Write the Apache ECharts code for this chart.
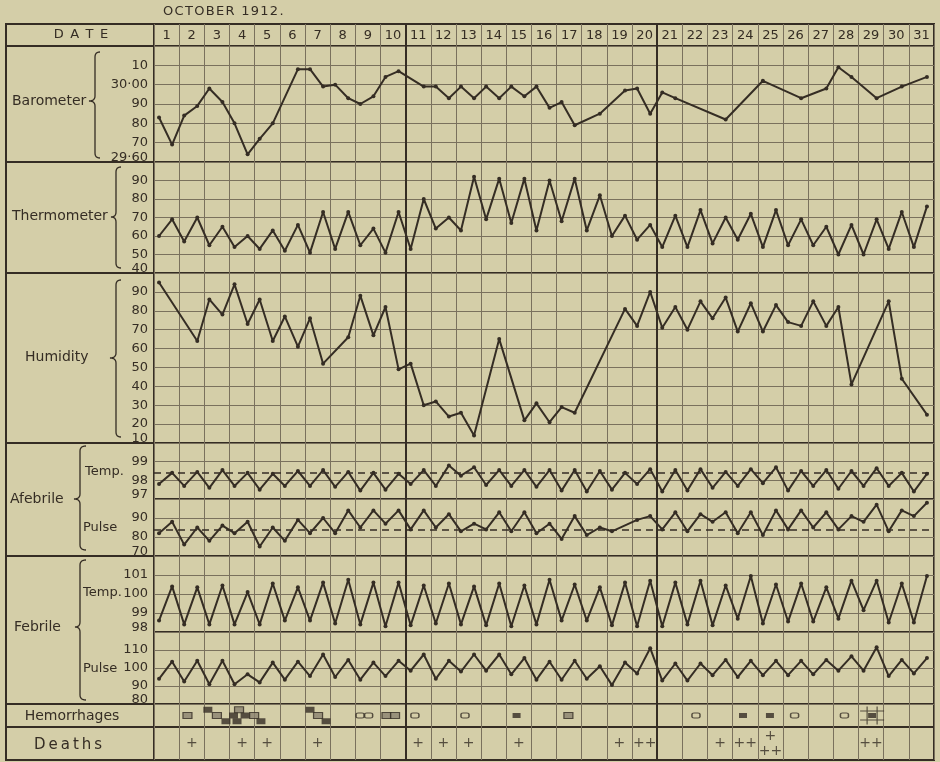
<!DOCTYPE html>
<html><head><meta charset="utf-8">
<script src="https://cdn.jsdelivr.net/npm/echarts/dist/echarts.min.js"></script>
<style>html,body{margin:0;padding:0;background:#d4cea8;}#c{width:940px;height:762px;}</style>
</head><body><div id="c"></div>
<script>
// ---------------- data ----------------
const TITLE = 'OCTOBER 1912.';
const DAYS = Array.from({length:31}, (_, i) => String(i + 1));
// two readings per day (62 values), null = no reading drawn
const BAROMETER = [
 29.83,29.69, 29.84,29.89, 29.98,29.91, 29.80,29.64, 29.72,29.80,
 null,30.08, 30.08,29.99, 30.00,29.93, 29.90,29.94, 30.04,30.07,
 null,29.99, 29.99,29.93, 29.99,29.93, 29.99,29.93, 29.99,29.94,
 29.99,29.88, 29.91,29.79, null,29.85, null,29.97, 29.98,29.85,
 29.96,29.93, null,null, null,29.82, null,null, 30.02,null,
 null,29.93, null,29.98, 30.09,30.04, null,29.93, null,29.99,
 null,30.04];
const THERMOMETER = [
 60,69, 57,70, 55,65, 54,60, 53,63, 52,66, 51,73, 53,73, 55,64, 51,73,
 53,80, 64,70, 63,92, 69,91, 67,91, 63,90, 68,91, 63,82, 60,71, 58,66,
 54,71, 54,74, 56,70, 58,72, 54,74, 55,69, 55,65, 50,66, 50,69, 53,73,
 54,76];
const HUMIDITY = [
 95,null, null,64, 86,78, 94,73, 86,64, 77,61, 76,52, null,66, 88,67, 82,49,
 52,30, 32,24, 26,14, null,65, null,22, 31,21, 29,26, null,null, null,81, 72,90,
 71,82, 70,85, 76,87, 69,84, 69,83, 74,72, 85,72, 82,41, null,null, 85,44,
 null,25];
const AFEBRILE_TEMP = [
 97.8,98.4, 97.7,98.45, 97.6,98.55, 97.7,98.4, 97.5,98.35, 97.7,98.5, 97.7,98.55,
 97.65,98.45, 97.45,98.4, 97.5,98.35, 97.8,98.55, 97.7,98.8, 98.25,98.7, 97.75,98.55,
 97.7,98.55, 97.65,98.55, 97.45,98.55, 97.4,98.5, 97.5,98.4, 97.8,98.6, 97.4,98.55,
 97.45,98.6, 97.6,98.45, 97.7,98.6, 97.85,98.7, 97.45,98.5, 97.7,98.55, 97.55,98.5,
 97.7,98.65, 97.7,98.4, 97.4,98.35];
const AFEBRILE_PULSE = [
 82,88, 76,85, 78,86, 82,88, 75,85, 78,89, 82,90, 82,94, 85,94, 87,94,
 84,94, 85,92, 83,87, 84,93, 83,93, 82,87, 79,91, 81,85, 83,null, 89,91,
 84,93, 83,92, 88,93, 82,93, 81,94, 84,94, 85,93, 84,91, 88,97, 83,94,
 91,98];
const FEBRILE_TEMP = [
 98.6,100.4, 98.4,100.35, 98.4,100.45, 98.4,100.1, 98.4,100.55, 98.6,100.35,
 98.6,100.6, 98.45,100.75, 98.4,100.6, 98.3,100.6, 98.35,100.45, 98.45,100.55,
 98.4,100.4, 98.35,100.55, 98.3,100.45, 98.4,100.75, 98.6,100.5, 98.6,100.35,
 98.35,100.6, 98.3,100.7, 98.3,100.6, 98.4,100.7, 98.35,100.45, 98.7,100.95,
 98.45,100.5, 98.55,100.55, 98.55,100.35, 98.7,100.7, 99.15,100.7, 98.5,100.55,
 98.5,100.95];
const FEBRILE_PULSE = [
 94,103.5, 92.5,104, 91,104, 91,96.5, 92,103, 93.5,103.5, 95.5,107.5, 95,104.5,
 93.5,103, 95.5,104, 98.5,107.5, 94,104, 98,107.5, 98.5,107.5, 96.5,105.5,
 93.5,103.5, 93.5,104, 94,101, 90.5,103, 97,111, 93,102.5, 93,102.5, 96,104.5,
 95,104, 96,104, 96,104, 96.5,104.5, 98.5,106.5, 98.5,111.5, 95.5,104.5, 97,105.5];
const NORMAL_TEMP = 98.4;
const NORMAL_PULSE = 84;
// hemorrhages: [day position, level]
const HEM_OPEN = [[8.19,2],[8.53,2],[10.37,2],[12.36,2],[21.54,2],[25.46,2],[27.44,2]];
const HEM_HATCHED = [[1.33,2],[2.5,2],[3.38,3],[3.98,2],[6.52,2],[9.24,2],[9.58,2],[16.47,2]];
const HEM_SOLID = [[2.14,3],[2.86,1],[3.16,2],[3.3,1],[3.62,2],[4.25,1],[6.2,3],[6.84,1]];
const HEM_SOLID_SMALL = [[14.41,2],[23.41,2],[24.48,2],[28.54,2]];
const HEM_GRID = [[28.54,2]];
const DEATHS = [0,1,0,1,1,0,1,0,0,0,1,1,1,0,1,0,0,0,1,2,0,0,1,2,3,0,0,0,2,0,0];
// tick labels (from min to max)
const BARO_TICKS = ['29·60','70','80','90','30·00','10',''];
const THERMO_TICKS = ['40','50','60','70','80','90',''];
const HUM_TICKS = ['10','20','30','40','50','60','70','80','90',''];
const AFT_TICKS = ['97','98','99',''];
const AFP_TICKS = ['70','80','90',''];
const FET_TICKS = ['98','99','100','101',''];
const FEP_TICKS = ['80','90','100','110',''];

// ---------------- layout / style ----------------
const INK = '#352d24', GRIDC = '#7a715d', BG = '#d4cea8';
const FONT = '"DejaVu Sans", Verdana, sans-serif';
const SLOT = [0.2, 0.72];
const L = 154, W = 780;
const ROWS = [
 {top:24,h:22},{top:46,h:116},{top:162,h:111},{top:273,h:170},
 {top:443,h:56},{top:499,h:57},{top:556,h:76},{top:632,h:72},
 {top:704,h:23},{top:727,h:33}];
const AXES = [
 null,
 {min:29.6,max:30.2,interval:0.1,ticks:BARO_TICKS},
 {min:40,max:100,interval:10,ticks:THERMO_TICKS},
 {min:10,max:100,interval:10,ticks:HUM_TICKS},
 {min:97,max:100,interval:1,ticks:AFT_TICKS},
 {min:70,max:100,interval:10,ticks:AFP_TICKS},
 {min:98,max:102,interval:1,ticks:FET_TICKS},
 {min:80,max:120,interval:10,ticks:FEP_TICKS},
 {min:0,max:4,interval:1,ticks:null},
 {min:0,max:1,interval:1,ticks:null}];

const grid = ROWS.map(r => ({left:L, width:W, top:r.top, height:r.h, show:true,
  borderColor:INK, borderWidth:2, backgroundColor:'transparent', containLabel:false, outerBoundsMode:'none'}));

const xAxis = ROWS.map((r,i) => ({type:'value', gridIndex:i, min:0, max:31, interval:1,
  axisLine:{show:false}, axisTick:{show:false}, axisLabel:{show:false},
  splitLine:{show:true, lineStyle:{color:GRIDC, width:1}}}));
xAxis.push({type:'category', gridIndex:0, position:'top', data:DAYS, boundaryGap:true,
  axisLine:{show:false}, axisTick:{show:false}, splitLine:{show:false},
  axisLabel:{show:true, inside:true, margin:5, interval:0, color:INK, fontSize:13, fontFamily:FONT}});

const yAxis = ROWS.map((r,i) => {
  const a = AXES[i];
  if (!a) return {type:'value', gridIndex:i, min:0, max:1, show:false, splitLine:{show:false}};
  const hasTicks = !!a.ticks;
  return {type:'value', gridIndex:i, min:a.min, max:a.max, interval:a.interval,
    axisLine:{show:false}, axisTick:{show:false},
    splitLine:{show:hasTicks, lineStyle:{color:GRIDC, width:1}},
    axisLabel:{show:hasTicks, showMinLabel:true, showMaxLabel:true, margin:6, color:INK, fontSize:13, fontFamily:FONT,
      formatter:(v, idx) => hasTicks ? (idx === 0 ? '{lo|' + a.ticks[0] + '}' : (a.ticks[idx] || '')) : '',
      rich:{lo:{padding:[0,0,9,0], color:INK, fontSize:13, fontFamily:FONT}}}};
});

const sep = {silent:true, symbol:['none','none'], label:{show:false}, animation:false,
  lineStyle:{color:INK, width:2, type:'solid'}, data:[{xAxis:10},{xAxis:20}]};

function halfDay(vals){ return vals.map((v,i) => [Math.floor(i/2) + SLOT[i%2], v]); }
function lineS(i, vals, extraMark){
  const ml = JSON.parse(JSON.stringify(sep));
  if (extraMark) ml.data.push({yAxis:extraMark, lineStyle:{type:[7,5], width:1.5, color:INK}});
  return {type:'line', xAxisIndex:i, yAxisIndex:i, data:halfDay(vals), connectNulls:true,
    symbol:'circle', symbolSize:4, showSymbol:true, lineStyle:{color:INK, width:2},
    itemStyle:{color:INK}, z:5, animation:false, markLine:ml};
}
function frameS(i){ return {type:'line', xAxisIndex:i, yAxisIndex:i, data:[], markLine:sep, animation:false}; }

const series = [
  frameS(0),
  lineS(1, BAROMETER), lineS(2, THERMOMETER), lineS(3, HUMIDITY),
  lineS(4, AFEBRILE_TEMP, NORMAL_TEMP), lineS(5, AFEBRILE_PULSE, NORMAL_PULSE),
  lineS(6, FEBRILE_TEMP), lineS(7, FEBRILE_PULSE),
  frameS(8), frameS(9),
  {type:'scatter', xAxisIndex:8, yAxisIndex:8, data:HEM_OPEN, symbol:'roundRect', symbolSize:[8,5],
   itemStyle:{color:BG, borderColor:INK, borderWidth:1.2}, animation:false, z:6},
  {type:'scatter', xAxisIndex:8, yAxisIndex:8, data:HEM_HATCHED, symbol:'rect', symbolSize:[9,6],
   itemStyle:{color:'#8a826f', borderColor:INK, borderWidth:1}, animation:false, z:6},
  {type:'scatter', xAxisIndex:8, yAxisIndex:8, data:HEM_SOLID, symbol:'rect', symbolSize:[9,6],
   itemStyle:{color:INK}, animation:false, z:6},
  {type:'scatter', xAxisIndex:8, yAxisIndex:8, data:HEM_SOLID_SMALL, symbol:'rect', symbolSize:[8,5],
   itemStyle:{color:INK}, animation:false, z:6},
  {type:'scatter', xAxisIndex:8, yAxisIndex:8, data:HEM_GRID, symbol:'path://M0,4H24M0,12H24M7,0V16M17,0V16', symbolSize:[24,18],
   itemStyle:{color:'none', borderColor:INK, borderWidth:1}, animation:false, z:7},
  {type:'scatter', xAxisIndex:9, yAxisIndex:9, symbolSize:1, itemStyle:{color:'rgba(0,0,0,0)'}, animation:false,
   data:DEATHS.map((c,i) => [i + 0.5, 0.5, c]).filter(d => d[2] > 0),
   label:{show:true, position:'inside', color:INK, fontSize:14, lineHeight:15, fontFamily:FONT,
     formatter:p => p.data[2] === 3 ? '+\n++' : '+'.repeat(p.data[2])}}
];

// ---------------- left column (labels, braces, borders) ----------------
function quad(p0, c, p1, n){
  const pts = [];
  for (let k = 1; k <= n; k++){ const t = k/n, u = 1-t;
    pts.push([u*u*p0[0] + 2*u*t*c[0] + t*t*p1[0], u*u*p0[1] + 2*u*t*c[1] + t*t*p1[1]]); }
  return pts;
}
function brace(xs, y1, y2, ym, wl, wr, r){
  const xl = xs - wl, xr = xs + wr;
  let pts = [[xr, y1]];
  pts = pts.concat(quad([xr,y1],[xs,y1],[xs,y1+r],6));
  pts.push([xs, ym-r]);
  pts = pts.concat(quad([xs,ym-r],[xs,ym],[xl,ym],6));
  pts = pts.concat(quad([xl,ym],[xs,ym],[xs,ym+r],6));
  pts.push([xs, y2-r]);
  pts = pts.concat(quad([xs,y2-r],[xs,y2],[xr,y2],6));
  return {type:'polyline', silent:true, shape:{points:pts}, style:{stroke:INK, fill:null, lineWidth:1.3}};
}
function txt(t, x, y, size, align){
  return {type:'text', silent:true, style:{text:t, x, y, fill:INK, font:`${size}px ${FONT}`, align:align||'left', verticalAlign:'middle'}};
}
const sepRows = [1,2,3,4,6,8,9];
const graphic = [
  {type:'rect', silent:true, shape:{x:6, y:24, width:L-6, height:736}, style:{fill:null, stroke:INK, lineWidth:2}},
  ...sepRows.map(i => ({type:'line', silent:true, shape:{x1:6, y1:ROWS[i].top, x2:L, y2:ROWS[i].top}, style:{stroke:INK, lineWidth:2}})),
  txt(TITLE.split('').join('\u200A'), 163, 12, 13),
  txt('D\u2002A\u2002T\u2002E', 81, 35, 13, 'center'),
  txt('Barometer', 12, 101, 14), brace(95, 52, 158, 101, 6, 5, 5),
  txt('Thermometer', 12, 216, 14), brace(116, 167, 268, 217, 5, 5, 5),
  txt('Humidity', 25, 357, 14), brace(116, 280, 437, 358, 6, 5, 5),
  txt('Afebrile', 10, 499, 14), brace(80, 446, 550, 499, 6, 6, 5),
  txt('Temp.', 85, 472, 13), txt('Pulse', 83, 528, 13),
  txt('Febrile', 14, 627, 14), brace(80, 560, 700, 627, 5, 6, 5),
  txt('Temp.', 83, 593, 13), txt('Pulse', 83, 669, 13),
  txt('Hemorrhages', 72, 716, 14, 'center'),
  txt('Deaths'.split('').join('\u2009'), 68, 745, 15, 'center')
];

const chart = echarts.init(document.getElementById('c'), null, {renderer:'canvas'});
chart.setOption({backgroundColor:BG, animation:false, grid, xAxis, yAxis, series, graphic});
</script></body></html>
